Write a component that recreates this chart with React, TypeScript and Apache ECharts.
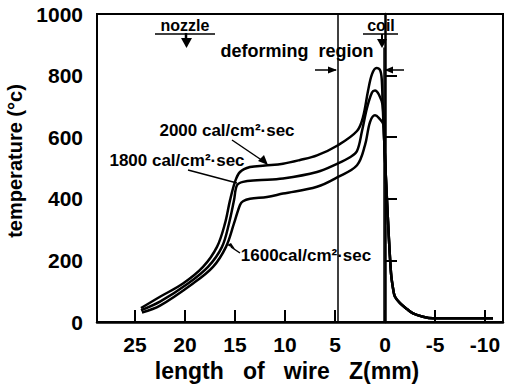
import React, { useEffect, useRef } from "react";
import * as echarts from "echarts";

// Z (mm) and temperature (°C)
const zTop = [24.4, 22.5, 20.2, 18.2, 16.8, 16.0, 15.5, 15.0, 14.5, 13.5, 12.0, 10.2, 8.5, 6.8, 4.7, 2.8, 2.2, 1.7, 1.3, 0.85, 0.5, 0.33, 0.23];
const tTop = [45, 82, 125, 179, 244, 320, 395, 455, 487, 503, 508, 514, 526, 541, 574, 620, 665, 750, 805, 825, 818, 790, 703];

const zMid = [24.4, 22.5, 19.7, 17.7, 16.3, 15.6, 15.1, 14.8, 14.2, 12.8, 10.2, 6.8, 4.7, 3.5, 2.8, 2.3, 1.8, 1.3, 1.0, 0.6, 0.23];
const tMid = [38, 66, 125, 179, 244, 320, 395, 444, 455, 460, 466, 487, 515, 535, 555, 620, 695, 745, 752, 738, 703];

const zBot = [24.3, 22.5, 19.2, 17.2, 15.9, 15.1, 14.5, 14.2, 13.5, 11.8, 10.2, 6.8, 4.7, 2.8, 2.0, 1.5, 1.0, 0.6, 0.15];
const tBot = [31, 53, 125, 179, 244, 320, 380, 392, 400, 406, 417, 439, 471, 509, 574, 649, 671, 662, 640];

// shared steep descent after the coil
const zDesc = [0.08, -0.23, -0.6, -0.83, -1.0, -1.5, -2.2, -2.8, -3.8, -4.8, -10.8];
const tDesc = [590, 374, 159, 104, 82, 61, 42, 28, 17, 12, 12];

const seriesNames = ["2000 cal/cm²·sec", "1800 cal/cm²·sec", "1600cal/cm²·sec"];
const xTicks = [25, 20, 15, 10, 5, 0, -5, -10];
const deformZ = 4.7;
const coilZ = 0.1;

const FONT = "Liberation Sans";

function build(z: number[], t: number[]) {
  const zz = z.concat(zDesc);
  const tt = t.concat(tDesc);
  return zz.map((v, i) => [v, tt[i]]);
}

export default function App() {
  const ref = useRef<HTMLDivElement>(null);
  useEffect(() => {
    if (!ref.current) return;
    const chart = echarts.init(ref.current, null, { renderer: "svg" });
    const lineStyle = { color: "#000", width: 2.5 };
    const txt = (x: number, y: number, text: string, size: number) => ({
      type: "text",
      x,
      y,
      style: {
        text,
        font: `bold ${size}px "${FONT}"`,
        fill: "#000",
        align: "center",
        verticalAlign: "middle",
      },
    });
    const seg = (x1: number, y1: number, x2: number, y2: number, w = 1.5) => ({
      type: "line",
      shape: { x1, y1, x2, y2 },
      style: { stroke: "#000", lineWidth: w },
    });
    const head = (pts: number[][]) => ({
      type: "polygon",
      shape: { points: pts },
      style: { fill: "#000" },
    });
    chart.setOption({
      animation: false,
      backgroundColor: "#fff",
      grid: {
        left: 97,
        right: 3,
        top: 14,
        bottom: 66,
        outerBoundsMode: "none",
        containLabel: false,
        show: true,
        borderColor: "#000",
        borderWidth: 2,
      },
      xAxis: {
        type: "value",
        min: -11.8,
        max: 28.8,
        inverse: true,
        name: "length   of   wire   Z(mm)",
        nameLocation: "middle",
        nameGap: 36,
        nameTextStyle: {
          fontFamily: FONT,
          fontWeight: "bold",
          fontSize: 23,
          color: "#000",
          padding: [0, 26, 0, 0],
        },
        axisLine: { lineStyle: { color: "#000", width: 2.5 } },
        axisTick: { inside: true, length: 12, customValues: xTicks, lineStyle: { color: "#000", width: 2 } },
        axisLabel: {
          customValues: xTicks,
          margin: 12,
          fontFamily: FONT,
          fontWeight: "bold",
          fontSize: 21,
          color: "#000",
          formatter: (v: number) => String(v),
        },
        splitLine: { show: false },
      },
      yAxis: {
        type: "value",
        min: 0,
        max: 1000,
        interval: 200,
        name: "temperature (°c)",
        nameLocation: "middle",
        nameGap: 69,
        nameTextStyle: { fontFamily: FONT, fontWeight: "bold", fontSize: 20, color: "#000", padding: [0, 0, 0, 14] },
        axisLine: { lineStyle: { color: "#000", width: 2.5 } },
        axisTick: { inside: true, length: 12, lineStyle: { color: "#000", width: 2 } },
        axisLabel: {
          margin: 14,
          fontFamily: FONT,
          fontWeight: "bold",
          fontSize: 21,
          color: "#000",
          formatter: (v: number) => String(v),
        },
        splitLine: { show: false },
      },
      series: [
        {
          name: seriesNames[0],
          type: "line",
          data: build(zTop, tTop),
          showSymbol: false,
          smooth: 0.35,
          lineStyle,
          markLine: {
            silent: true,
            symbol: "none",
            label: { show: false },
            lineStyle: { color: "#000", width: 1.5, type: "solid" },
            data: [
              [{ coord: [deformZ, 0] }, { coord: [deformZ, 1000] }],
              [{ coord: [coilZ, 0] }, { coord: [coilZ, 891] }],
            ],
          },
        },
        {
          name: seriesNames[1],
          type: "line",
          data: build(zMid, tMid),
          showSymbol: false,
          smooth: 0.35,
          lineStyle,
        },
        {
          name: seriesNames[2],
          type: "line",
          data: build(zBot, tBot),
          showSymbol: false,
          smooth: 0.35,
          lineStyle,
        },
      ],
      graphic: [
        txt(185, 25, "nozzle", 16),
        seg(155, 34, 215, 34, 1.5),
        seg(186, 33, 186, 40, 2.5),
        head([[181, 38], [192, 38], [186.5, 48]]),
        txt(381, 25, "coil", 16),
        seg(363, 34, 398, 34, 1.5),
        seg(382, 34, 382, 40, 2),
        head([[377, 39], [387, 39], [382, 48]]),
        txt(297, 51, "deforming  region", 18),
        seg(315, 70, 336, 70, 1.5),
        head([[328, 66.5], [328, 73.5], [337, 70]]),
        seg(404, 70, 386, 70, 1.5),
        head([[393, 66.5], [393, 73.5], [384.5, 70]]),
        txt(227, 130, seriesNames[0], 17),
        seg(232, 140, 263, 161, 1.5),
        head([[258, 161], [264, 155], [268, 165]]),
        txt(177, 160, seriesNames[1], 17),
        seg(188, 170, 237, 183, 1.5),
        txt(306, 255, seriesNames[2], 17),
        seg(240, 253, 231, 247, 1.5),
        head([[231, 243], [235, 249], [227, 245]]),
      ],
    });
    return () => chart.dispose();
  }, []);
  return (
    <div
      ref={ref}
      style={{ position: "absolute", left: 0, top: 0, width: 506, height: 388 }}
    />
  );
}
